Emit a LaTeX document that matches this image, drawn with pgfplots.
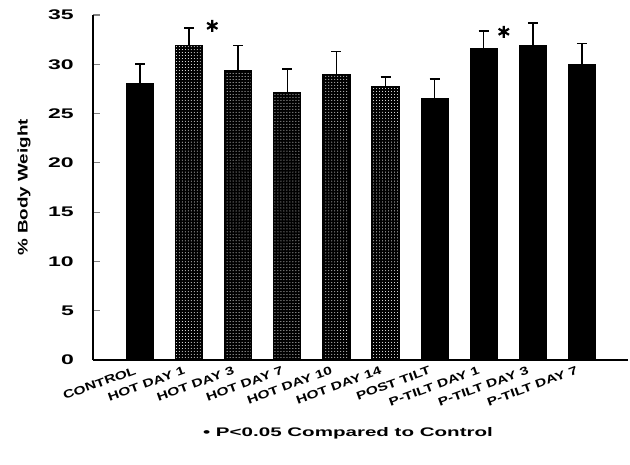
\documentclass[border=0pt]{standalone}
\usepackage{fontspec}
\setmainfont[FakeStretch=1.35]{Liberation Sans}
\newfontfamily\widefont[FakeStretch=1.65]{Liberation Sans}
\usepackage{pgfplots}
\usepackage{pgfplotstable}
\pgfplotsset{compat=1.18}
\usetikzlibrary{patterns}

% solid bars: control and post-tilt
\pgfplotstableread{
x   val   err
0   28.0  2.0
6   26.5  2.0
7   31.6  1.8
8   31.9  2.3
9   30.0  2.1
}\solidbars

% stippled bars: HDT days
\pgfplotstableread{
x   val   err
1   31.9  1.8
2   29.4  2.5
3   27.1  2.4
4   29.0  2.3
5   27.7  1.0
}\stipplebars

\begin{document}
\begin{tikzpicture}
\useasboundingbox (-93bp,-105bp) rectangle (537bp,360bp);
\begin{axis}[
    at={(0,0)}, anchor=south west,
    scale only axis,
    width=535bp, height=345bp,
    axis lines=left,
    axis line style={-, line width=1.5bp},
    xmin=-0.96, xmax=9.94,
    ymin=0, ymax=35,
    ytick={0,5,...,35},
    tick align=inside,
    major tick length=7bp,
    ytick style={line width=1.2bp},
    xtick style={draw=none},
    xtick={0,...,9},
    xticklabels={CONTROL, HOT DAY 1, HOT DAY 3, HOT DAY 7, HOT DAY 10, HOT DAY 14,
                 POST TILT, P-TILT DAY 1, P-TILT DAY 3, P-TILT DAY 7},
    xticklabel style={font=\bfseries\fontsize{11.5}{11.5}\selectfont,
                      xshift=-6bp, yshift=-6bp, rotate=20, anchor=north east, inner sep=0pt},
    /pgf/number format/assume math mode=true,
    yticklabel style={font=\widefont\bfseries\fontsize{14}{14}\selectfont,
                      inner sep=0pt, xshift=-19bp},
    ylabel={\% Body Weight},
    every axis y label/.style={at={(axis description cs:-0.129,0.5)}, rotate=90, anchor=center,
                               font=\bfseries\fontsize{14}{14}\selectfont},
    clip=false,
]
\addplot[ybar, bar width=27bp, bar shift=0pt, draw=black, line width=1bp, fill=black,
    error bars/.cd, y dir=plus, y explicit,
    error bar style={line width=1.6bp, black},
    error mark options={rotate=90, mark size=5bp, line width=1.6bp}]
    table[x=x, y=val, y error=err] {\solidbars};
\addplot[ybar, bar width=27bp, bar shift=0pt, draw=black, line width=1.2bp, fill=black,
    postaction={pattern=dots, pattern color=white},
    error bars/.cd, y dir=plus, y explicit,
    error bar style={line width=1.6bp, black},
    error mark options={rotate=90, mark size=5bp, line width=1.6bp}]
    table[x=x, y=val, y error=err] {\stipplebars};
% significance markers
\addplot[only marks, mark=asterisk, mark size=6bp, line width=2.2bp, black]
    coordinates {(1.47,33.9) (7.41,33.3)};
\end{axis}
\node[font=\widefont\bfseries\fontsize{12.5}{12.5}\selectfont] at (255bp,-73bp)
    {• P<0.05 Compared to Control};
\end{tikzpicture}
\end{document}
